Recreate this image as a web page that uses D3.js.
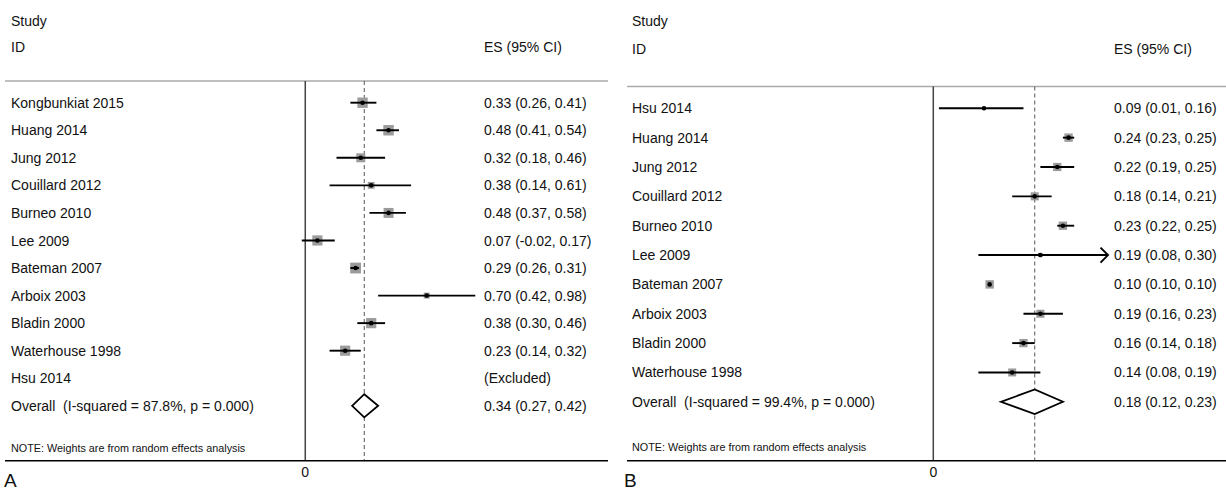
<!DOCTYPE html>
<html lang="en">
<head>
  <meta charset="UTF-8">
  <title>Forest plots A and B</title>
  <style>
    body { margin: 0; background: #fff; }
    svg { display: block; }
    text {
      font-family: "Liberation Sans", Arial, sans-serif;
      font-size: 14px;
      fill: #111;
      white-space: pre;
    }
    .note { font-size: 10.8px; }
    .panel-tag { font-size: 19px; }
    .ci { stroke: #000; stroke-width: 1.9px; }
    .box { fill: #9b9b9b; }
    .dot { fill: #000; }
    .zero { stroke: #444; stroke-width: 1.5px; }
    .ref { stroke: #555; stroke-width: 1px; stroke-dasharray: 4, 3; }
    .head-line { stroke: #aaa; stroke-width: 1.5px; }
    .axis-line { stroke: #000; stroke-width: 1.5px; }
    .diamond { fill: #fff; stroke: #000; stroke-width: 1.8px; }
  </style>
</head>
<body>
  <svg width="1226" height="491"></svg>

  <script src="https://d3js.org/d3.v7.min.js"></script>
  <script>
    // panel A
    var studiesA = ["Kongbunkiat 2015", "Huang 2014", "Jung 2012", "Couillard 2012", "Burneo 2010",
                    "Lee 2009", "Bateman 2007", "Arboix 2003", "Bladin 2000", "Waterhouse 1998", "Hsu 2014"];
    var esA = [0.33, 0.48, 0.32, 0.38, 0.48, 0.07, 0.29, 0.70, 0.38, 0.23, null];
    var loA = [0.26, 0.41, 0.18, 0.14, 0.37, -0.02, 0.26, 0.42, 0.30, 0.14, null];
    var hiA = [0.41, 0.54, 0.46, 0.61, 0.58, 0.17, 0.31, 0.98, 0.46, 0.32, null];
    var weightA = [11.0, 11.2, 8.3, 4.8, 10.2, 10.6, 12.0, 3.6, 10.7, 10.6, null];
    var overallA = [0.34, 0.27, 0.42];
    var overallLabelA = "Overall  (I-squared = 87.8%, p = 0.000)";

    // panel B
    var studiesB = ["Hsu 2014", "Huang 2014", "Jung 2012", "Couillard 2012", "Burneo 2010",
                    "Lee 2009", "Bateman 2007", "Arboix 2003", "Bladin 2000", "Waterhouse 1998"];
    var esB = [0.09, 0.24, 0.22, 0.18, 0.23, 0.19, 0.10, 0.19, 0.16, 0.14];
    var loB = [0.01, 0.23, 0.19, 0.14, 0.22, 0.08, 0.10, 0.16, 0.14, 0.08];
    var hiB = [0.16, 0.25, 0.25, 0.21, 0.25, 0.30, 0.10, 0.23, 0.18, 0.19];
    var weightB = [1.5, 11.4, 11.0, 10.6, 11.3, 3.0, 11.5, 10.6, 11.2, 10.4];
    var clippedB = ["Lee 2009"];
    var overallB = [0.18, 0.12, 0.23];
    var overallLabelB = "Overall  (I-squared = 99.4%, p = 0.000)";

    var noteText = "NOTE: Weights are from random effects analysis";

    function fmt(v) { return v.toFixed(2); }

    function drawPanel(svg, p) {
      var g = svg.append("g");
      var rows = p.studies.concat(["__overall"]);

      var x = d3.scaleLinear().domain(p.domain).range(p.xRange);
      var y = d3.scalePoint().domain(rows).range(p.yRange);
      var side = d3.scaleSqrt().domain([0, d3.max(p.weight)]).range([0, p.maxSide]);

      var data = p.studies.map(function(s, i) {
        return { id: s, es: p.es[i], lo: p.lo[i], hi: p.hi[i], w: p.weight[i] };
      });
      var shown = data.filter(function(d) { return d.es !== null; });

      // header
      g.append("text").attr("x", p.textX).attr("y", p.headY[0]).attr("dy", "0.36em").text("Study");
      g.append("text").attr("x", p.textX).attr("y", p.headY[1]).attr("dy", "0.36em").text("ID");
      g.append("text").attr("x", p.esX).attr("y", p.headY[1]).attr("dy", "0.36em").text("ES (95% CI)");
      g.append("line").attr("class", "head-line")
        .attr("x1", p.lineX[0]).attr("x2", p.lineX[1])
        .attr("y1", p.headLineY).attr("y2", p.headLineY);

      // zero line and overall reference
      g.append("line").attr("class", "zero")
        .attr("x1", x(0)).attr("x2", x(0))
        .attr("y1", p.headLineY).attr("y2", p.axisY);
      g.append("line").attr("class", "ref")
        .attr("x1", x(p.overall[0])).attr("x2", x(p.overall[0]))
        .attr("y1", p.headLineY).attr("y2", p.axisY);

      // study labels and estimates
      g.selectAll("text.study").data(data).enter().append("text")
        .attr("class", "study")
        .attr("x", p.textX).attr("y", function(d) { return y(d.id); })
        .attr("dy", "0.36em").text(function(d) { return d.id; });
      g.selectAll("text.est").data(data).enter().append("text")
        .attr("class", "est")
        .attr("x", p.esX).attr("y", function(d) { return y(d.id); })
        .attr("dy", "0.36em")
        .text(function(d) {
          return d.es === null ? "(Excluded)" : fmt(d.es) + " (" + fmt(d.lo) + ", " + fmt(d.hi) + ")";
        });

      // weight boxes
      g.selectAll("rect.box").data(shown).enter().append("rect")
        .attr("class", "box")
        .attr("x", function(d) { return x(d.es) - side(d.w) / 2; })
        .attr("y", function(d) { return y(d.id) - side(d.w) / 2; })
        .attr("width", function(d) { return side(d.w); })
        .attr("height", function(d) { return side(d.w); });

      // confidence intervals, clipped ones end in an arrow at the axis edge
      var xMax = p.domain[1];
      g.selectAll("line.ci").data(shown).enter().append("line")
        .attr("class", "ci")
        .attr("x1", function(d) { return x(d.lo); })
        .attr("x2", function(d) { return p.clipped.indexOf(d.id) >= 0 ? x(xMax) : x(d.hi); })
        .attr("y1", function(d) { return y(d.id); })
        .attr("y2", function(d) { return y(d.id); });

      g.selectAll("path.arrow").data(shown.filter(function(d) { return p.clipped.indexOf(d.id) >= 0; }))
        .enter().append("path")
        .attr("class", "arrow")
        .attr("fill", "none").attr("stroke", "#000").attr("stroke-width", 1.9)
        .attr("d", function(d) {
          var tx = x(xMax), ty = y(d.id);
          return "M" + (tx - 7.5) + "," + (ty - 7.5) + "L" + tx + "," + ty + "L" + (tx - 7.5) + "," + (ty + 7.5);
        });

      g.selectAll("circle.dot").data(shown).enter().append("circle")
        .attr("class", "dot")
        .attr("cx", function(d) { return x(d.es); })
        .attr("cy", function(d) { return y(d.id); })
        .attr("r", 2.3);

      // overall
      var oy = y("__overall");
      g.append("text").attr("x", p.textX).attr("y", oy).attr("dy", "0.36em").text(p.overallLabel);
      g.append("text").attr("x", p.esX).attr("y", oy).attr("dy", "0.36em")
        .text(fmt(p.overall[0]) + " (" + fmt(p.overall[1]) + ", " + fmt(p.overall[2]) + ")");
      var dh = p.diamondH;
      g.append("path").attr("class", "diamond")
        .attr("d", "M" + x(p.overall[1]) + "," + oy +
                   "L" + x(p.overall[0]) + "," + (oy - dh) +
                   "L" + x(p.overall[2]) + "," + oy +
                   "L" + x(p.overall[0]) + "," + (oy + dh) + "Z");

      g.append("text").attr("class", "note")
        .attr("x", p.textX).attr("y", p.noteY).attr("dy", "0.36em").text(noteText);

      // bottom axis
      g.append("line").attr("class", "axis-line")
        .attr("x1", p.lineX[0]).attr("x2", p.lineX[1])
        .attr("y1", p.axisY).attr("y2", p.axisY);
      g.append("text").attr("x", x(0)).attr("y", p.axisY + 16)
        .attr("text-anchor", "middle").text("0");

      g.append("text").attr("class", "panel-tag")
        .attr("x", p.tagX).attr("y", 487).text(p.tag);
    }

    var svg = d3.select("svg");

    drawPanel(svg, {
      studies: studiesA, es: esA, lo: loA, hi: hiA, weight: weightA, clipped: [],
      overall: overallA, overallLabel: overallLabelA,
      domain: [-0.02, 0.98], xRange: [301.8, 475.3],
      yRange: [102.7, 405.8], headY: [20.5, 47], headLineY: 81,
      textX: 11, esX: 484, lineX: [5, 608], axisY: 460.7, noteY: 447.7,
      maxSide: 10.8, diamondH: 11.6, tag: "A", tagX: 4
    });

    drawPanel(svg, {
      studies: studiesB, es: esB, lo: loB, hi: hiB, weight: weightB, clipped: clippedB,
      overall: overallB, overallLabel: overallLabelB,
      domain: [0, 0.31], xRange: [933.3, 1108],
      yRange: [108.3, 401.8], headY: [20.5, 49], headLineY: 86.5,
      textX: 632, esX: 1114, lineX: [627, 1226], axisY: 460.7, noteY: 446.7,
      maxSide: 8.4, diamondH: 12.3, tag: "B", tagX: 624
    });
  </script>
</body>
</html>
